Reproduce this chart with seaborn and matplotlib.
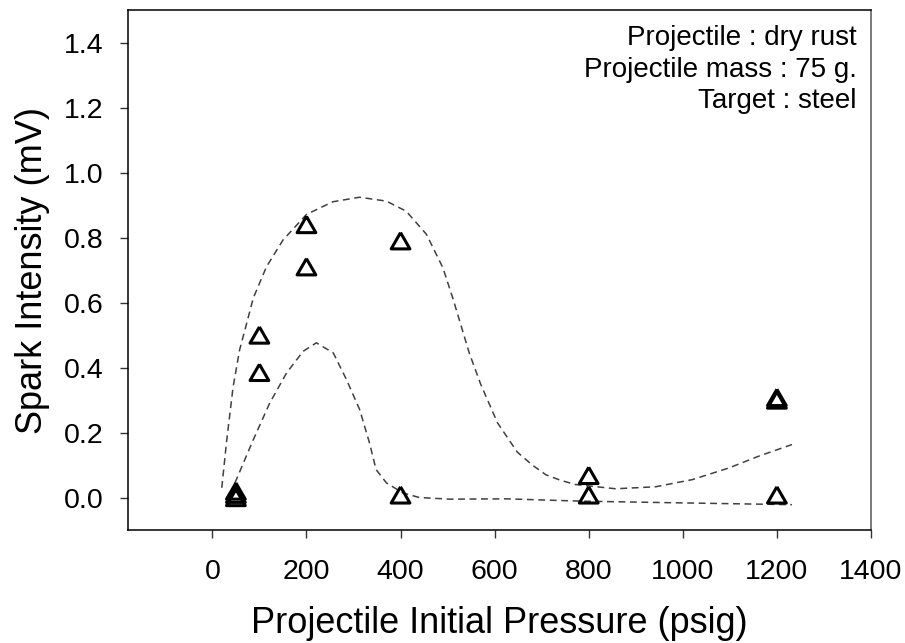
import numpy as np
import pandas as pd
import matplotlib
matplotlib.use("Agg")
import matplotlib.pyplot as plt
import seaborn as sns

# measured points (open triangles)
pressure = [50, 50, 50, 100, 100, 200, 200, 400, 400, 800, 800, 1200, 1200, 1200]
intensity = [0.0, 0.01, 0.02, 0.50, 0.385, 0.84, 0.71, 0.79, 0.008, 0.068, 0.008, 0.30, 0.308, 0.008]

# upper dashed envelope
upper_x = [20, 30, 44, 58, 70, 87, 115, 150, 200, 256, 313, 370, 412, 455, 490, 511,
           546, 570, 606, 648, 680, 709, 740, 772, 857, 942, 1020, 1098, 1161, 1232]
upper_y = [0.03, 0.17, 0.34, 0.455, 0.52, 0.614, 0.71, 0.792, 0.871, 0.91, 0.924, 0.912,
           0.881, 0.81, 0.707, 0.614, 0.445, 0.35, 0.23, 0.14, 0.10, 0.07, 0.053, 0.04,
           0.027, 0.033, 0.055, 0.091, 0.127, 0.163]

# lower dashed envelope
lower_x = [48, 87, 122, 158, 193, 221, 257, 285, 313, 334, 348, 370, 405, 440,
           504, 624, 780, 977, 1232]
lower_y = [0.045, 0.178, 0.291, 0.384, 0.45, 0.476, 0.445, 0.363, 0.271, 0.168, 0.086,
           0.045, 0.014, 0.0, -0.005, -0.004, -0.011, -0.016, -0.022]

notes = ["Projectile : dry rust", "Projectile mass : 75 g.", "Target : steel"]

sns.set_style("ticks")
plt.rcParams['font.family'] = ['Liberation Sans', 'DejaVu Sans']
plt.rcParams['text.color'] = 'black'
plt.rcParams['axes.labelcolor'] = 'black'
plt.rcParams['xtick.color'] = 'black'
plt.rcParams['ytick.color'] = 'black'

fig = plt.figure(figsize=(9.05, 6.43), dpi=100)
ax = fig.add_axes([0.1411, 0.1757, 0.8213, 0.8087])

df = pd.DataFrame({'pressure': pressure, 'intensity': intensity})
up = pd.DataFrame({'x': upper_x, 'y': upper_y})
lo = pd.DataFrame({'x': lower_x, 'y': lower_y})

sns.lineplot(data=up, x='x', y='y', estimator=None, sort=False, ax=ax,
             color='#404040', linewidth=1.1, linestyle=(0, (4.5, 3)))
sns.lineplot(data=lo, x='x', y='y', estimator=None, sort=False, ax=ax,
             color='#404040', linewidth=1.1, linestyle=(0, (4.5, 3)))

# equilateral triangle marker, centred on its bounding box
tri = [(0, 0.75), (-0.866, -0.75), (0.866, -0.75), (0, 0.75)]
sns.scatterplot(data=df, x='pressure', y='intensity', marker=tri, s=13.5 ** 2, ax=ax, zorder=3)
pts = ax.collections[-1]
pts.set_facecolor('none')
pts.set_edgecolor('black')
pts.set_linewidth(2.2)

ax.set_xlim(-180, 1400)
ax.set_ylim(-0.1, 1.5)
ax.set_xticks([0, 200, 400, 600, 800, 1000, 1200, 1400])
ax.set_yticks([0.0, 0.2, 0.4, 0.6, 0.8, 1.0, 1.2, 1.4])
ax.set_yticklabels(['0.0', '0.2', '0.4', '0.6', '0.8', '1.0', '1.2', '1.4'])
ax.tick_params(axis='both', labelsize=20.5, length=5.7, width=1, color='#333333')
ax.tick_params(axis='x', pad=15)
ax.tick_params(axis='y', pad=11.5)

ax.set_xlabel('Projectile Initial Pressure (psig)', fontsize=26)
ax.set_ylabel('Spark Intensity (mV)', fontsize=26)
ax.xaxis.set_label_coords(0.5, -0.147)
ax.yaxis.set_label_coords(-0.104, 0.5)

for side in ['left', 'bottom', 'top']:
    ax.spines[side].set_color('black')
    ax.spines[side].set_linewidth(1.1)
ax.spines['right'].set_color('#555555')
ax.spines['right'].set_linewidth(1.1)

for txt, yy in zip(notes, [0.9327, 0.8721, 0.8115]):
    ax.text(0.9812, yy, txt, transform=ax.transAxes, ha='right', va='baseline', fontsize=20)

fig.savefig('out.png', dpi=100)
